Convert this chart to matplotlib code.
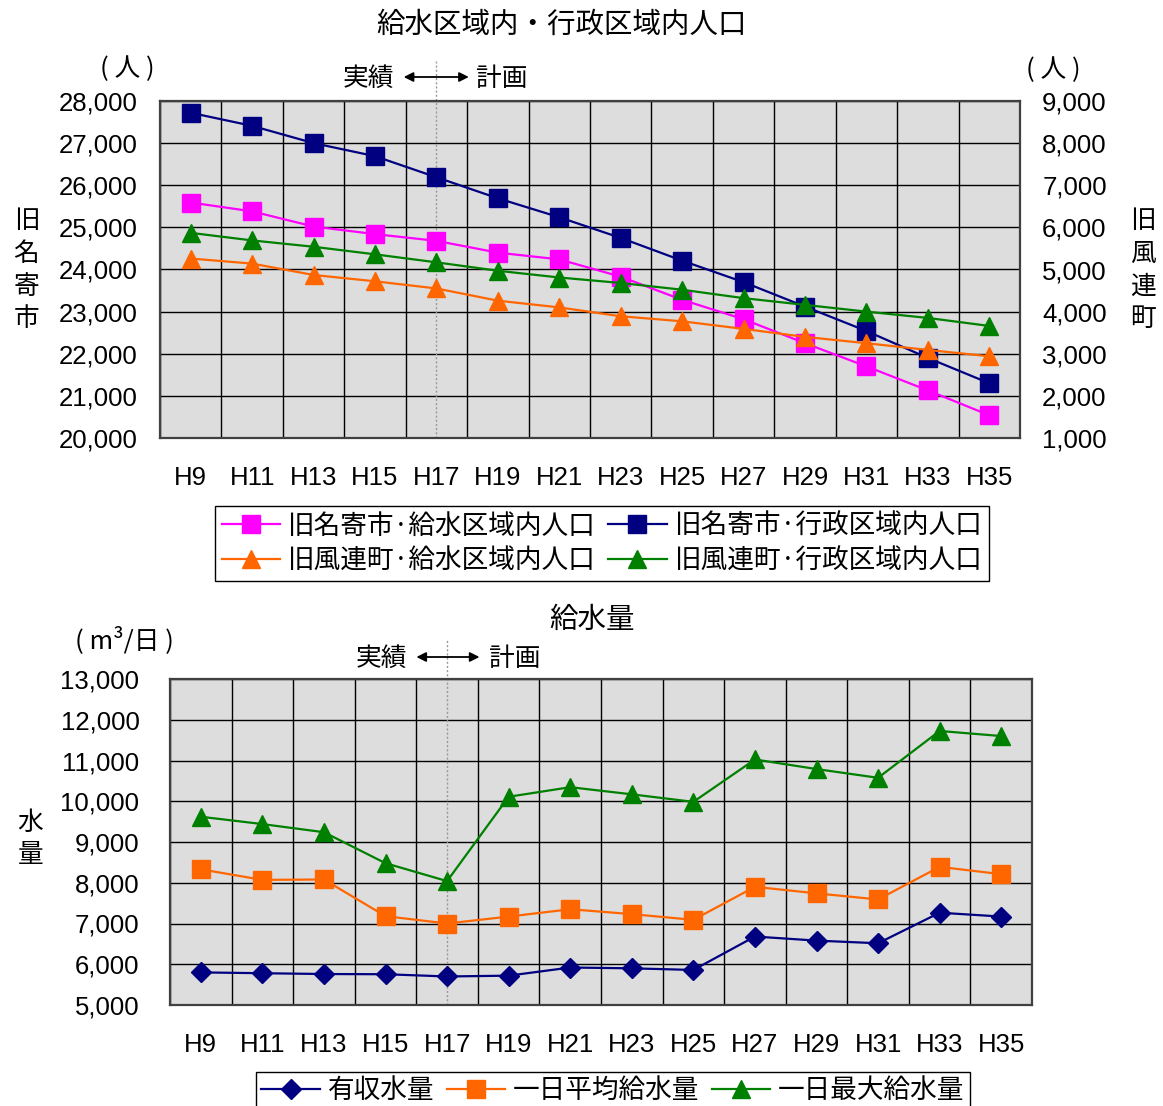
import numpy as np
import matplotlib
matplotlib.use("Agg")
import matplotlib.pyplot as plt
from matplotlib.ticker import FuncFormatter, MultipleLocator
from matplotlib.font_manager import FontProperties

# ---------------- data ----------------
categories = ['H9', 'H11', 'H13', 'H15', 'H17', 'H19', 'H21',
              'H23', 'H25', 'H27', 'H29', 'H31', 'H33', 'H35']

nayoro_supply = [25590, 25380, 25020, 24840, 24680, 24400, 24240,
                 23830, 23280, 22820, 22250, 21700, 21130, 20540]
nayoro_admin = [27720, 27410, 27000, 26690, 26190, 25690, 25240,
                24750, 24210, 23700, 23120, 22540, 21900, 21300]
furen_supply = [5260, 5140, 4870, 4720, 4550, 4260, 4100,
                3890, 3770, 3590, 3400, 3250, 3090, 2940]
furen_admin = [5870, 5690, 5540, 5360, 5170, 4970, 4810,
               4680, 4520, 4320, 4160, 4000, 3850, 3660]

revenue_water = [5800, 5780, 5760, 5755, 5700, 5720, 5920,
                 5900, 5860, 6680, 6580, 6515, 7265, 7170]
daily_avg = [8330, 8070, 8080, 7180, 7000, 7170, 7350,
             7230, 7090, 7900, 7740, 7590, 8390, 8210]
daily_max = [9620, 9440, 9240, 8480, 8040, 10110, 10345,
             10170, 9985, 11025, 10790, 10575, 11725, 11600]

split_category = 'H17'

# ---------------- style ----------------
W, H = 1163, 1106
plt.rcParams['font.family'] = ['Liberation Sans', 'Noto Sans CJK JP', 'DejaVu Sans']
CJK = ['Noto Sans CJK JP', 'DejaVu Sans']
TICK_FS = 18.5
CJK_FS = 18.5
LEG_FS = 19.2
TITLE_FS = 20.5

C_MAG = '#FF00FF'
C_NAVY = '#000080'
C_ORANGE = '#FF6600'
C_GREEN = '#008000'
BG = '#DDDDDD'

fig = plt.figure(figsize=(W / 100, H / 100), dpi=100)


def fx(px):
    return px / W


def fy(py):
    return 1 - py / H


def ftext(x, y, s, size=CJK_FS, **kw):
    fig.text(fx(x), fy(y), s, fontsize=size, family=CJK, ha='center', va='center', **kw)


def stacked(x, y0, pitch, s, size=CJK_FS):
    for i, ch in enumerate(s):
        ftext(x, y0 + i * pitch, ch, size=size)


def arrow(x0, x1, y):
    fig.add_artist(matplotlib.patches.FancyArrowPatch(
        (fx(x0), fy(y)), (fx(x1), fy(y)), transform=fig.transFigure,
        arrowstyle='<|-|>', mutation_scale=14, color='black', lw=1.3,
        shrinkA=0, shrinkB=0))


fmt = FuncFormatter(lambda v, p: f"{int(v):,}")
x = np.arange(len(categories))
split_idx = categories.index(split_category)


def style_axes(ax, ymin, ymax, pad_y):
    ax.set_facecolor(BG)
    ax.set_xlim(-0.5, len(categories) - 0.5)
    ax.set_ylim(ymin, ymax)
    ax.yaxis.set_major_locator(MultipleLocator(1000))
    ax.yaxis.set_major_formatter(fmt)
    ax.set_xticks(x)
    ax.set_xticklabels(categories)
    ax.set_xticks(np.arange(-0.5, len(categories)), minor=True)
    ax.grid(which='major', axis='y', color='black', lw=1.0)
    ax.grid(which='minor', axis='x', color='black', lw=1.0)
    ax.set_axisbelow(True)
    ax.tick_params(axis='both', which='both', length=0, labelsize=TICK_FS)
    ax.tick_params(axis='y', pad=pad_y)
    ax.tick_params(axis='x', pad=20)
    for sp in ax.spines.values():
        sp.set_color('#404040')
        sp.set_linewidth(1.6)
    ax.plot([split_idx, split_idx], [0, 1.12], transform=ax.get_xaxis_transform(),
            color='#999999', lw=1.0, ls=(0, (1.5, 1.5)), clip_on=False, zorder=1.5)


# ---------------- top chart ----------------
ax1 = fig.add_axes([fx(160), fy(438), fx(1020) - fx(160), fy(101) - fy(438)])
style_axes(ax1, 20000, 28000, 16)
l1, = ax1.plot(x, nayoro_supply, color=C_MAG, marker='s', ms=12.5, lw=1.6,
               label='旧名寄市·給水区域内人口', zorder=3)
l2, = ax1.plot(x, nayoro_admin, color=C_NAVY, marker='s', ms=12.5, lw=1.6,
               label='旧名寄市·行政区域内人口', zorder=3)

ax2 = ax1.twinx()
ax2.set_ylim(1000, 9000)
ax2.yaxis.set_major_locator(MultipleLocator(1000))
ax2.yaxis.set_major_formatter(fmt)
ax2.tick_params(axis='y', length=0, labelsize=TICK_FS, pad=16)
for sp in ax2.spines.values():
    sp.set_visible(False)
l3, = ax2.plot(x, furen_supply, color=C_ORANGE, marker='^', ms=13.5, lw=1.6,
               label='旧風連町·給水区域内人口', zorder=3)
l4, = ax2.plot(x, furen_admin, color=C_GREEN, marker='^', ms=13.5, lw=1.6,
               label='旧風連町·行政区域内人口', zorder=3)

leg_prop = FontProperties(family=CJK, size=LEG_FS)
fig.legend([l1, l3, l2, l4], [l1.get_label(), l3.get_label(), l2.get_label(), l4.get_label()],
           ncol=2, loc='center', bbox_to_anchor=(fx(602), fy(543.5)), prop=leg_prop,
           frameon=True, fancybox=False, edgecolor='black', framealpha=1,
           handlelength=2.2, handletextpad=0.3, columnspacing=0.45,
           labelspacing=0.3, borderpad=0.25, borderaxespad=0)

ftext(562, 25, '給水区域内・行政区域内人口', size=TITLE_FS)
ftext(127, 69, '( 人 )')
ftext(1053, 70, '( 人 )')
ftext(368, 79, '実績')
ftext(502, 79, '計画')
arrow(403.7, 468.8, 77)
stacked(26.5, 220.5, 33, '旧名寄市')
stacked(1143, 220.5, 33, '旧風連町')

# ---------------- bottom chart ----------------
ax3 = fig.add_axes([fx(170), fy(1005), fx(1032) - fx(170), fy(679) - fy(1005)])
style_axes(ax3, 5000, 13000, 22)
m1, = ax3.plot(x, revenue_water, color=C_NAVY, marker='D', ms=10, lw=1.6,
               label='有収水量', zorder=3)
m2, = ax3.plot(x, daily_avg, color=C_ORANGE, marker='s', ms=13, lw=1.6,
               label='一日平均給水量', zorder=3)
m3, = ax3.plot(x, daily_max, color=C_GREEN, marker='^', ms=13.5, lw=1.6,
               label='一日最大給水量', zorder=3)

fig.legend([m1, m2, m3], [m1.get_label(), m2.get_label(), m3.get_label()],
           ncol=3, loc='upper center', bbox_to_anchor=(fx(613), fy(1072)), prop=leg_prop,
           frameon=True, fancybox=False, edgecolor='black', framealpha=1,
           handlelength=2.2, handletextpad=0.3, columnspacing=0.45,
           borderpad=0.2, borderaxespad=0)

ftext(592, 620, '給水量', size=TITLE_FS)
ftext(124, 640, '( m³/日 )')
ftext(381, 659, '実績')
ftext(515, 659, '計画')
arrow(416.4, 479.5, 657)
stacked(30.6, 823, 32, '水量')

fig.savefig('out.png', dpi=100)
